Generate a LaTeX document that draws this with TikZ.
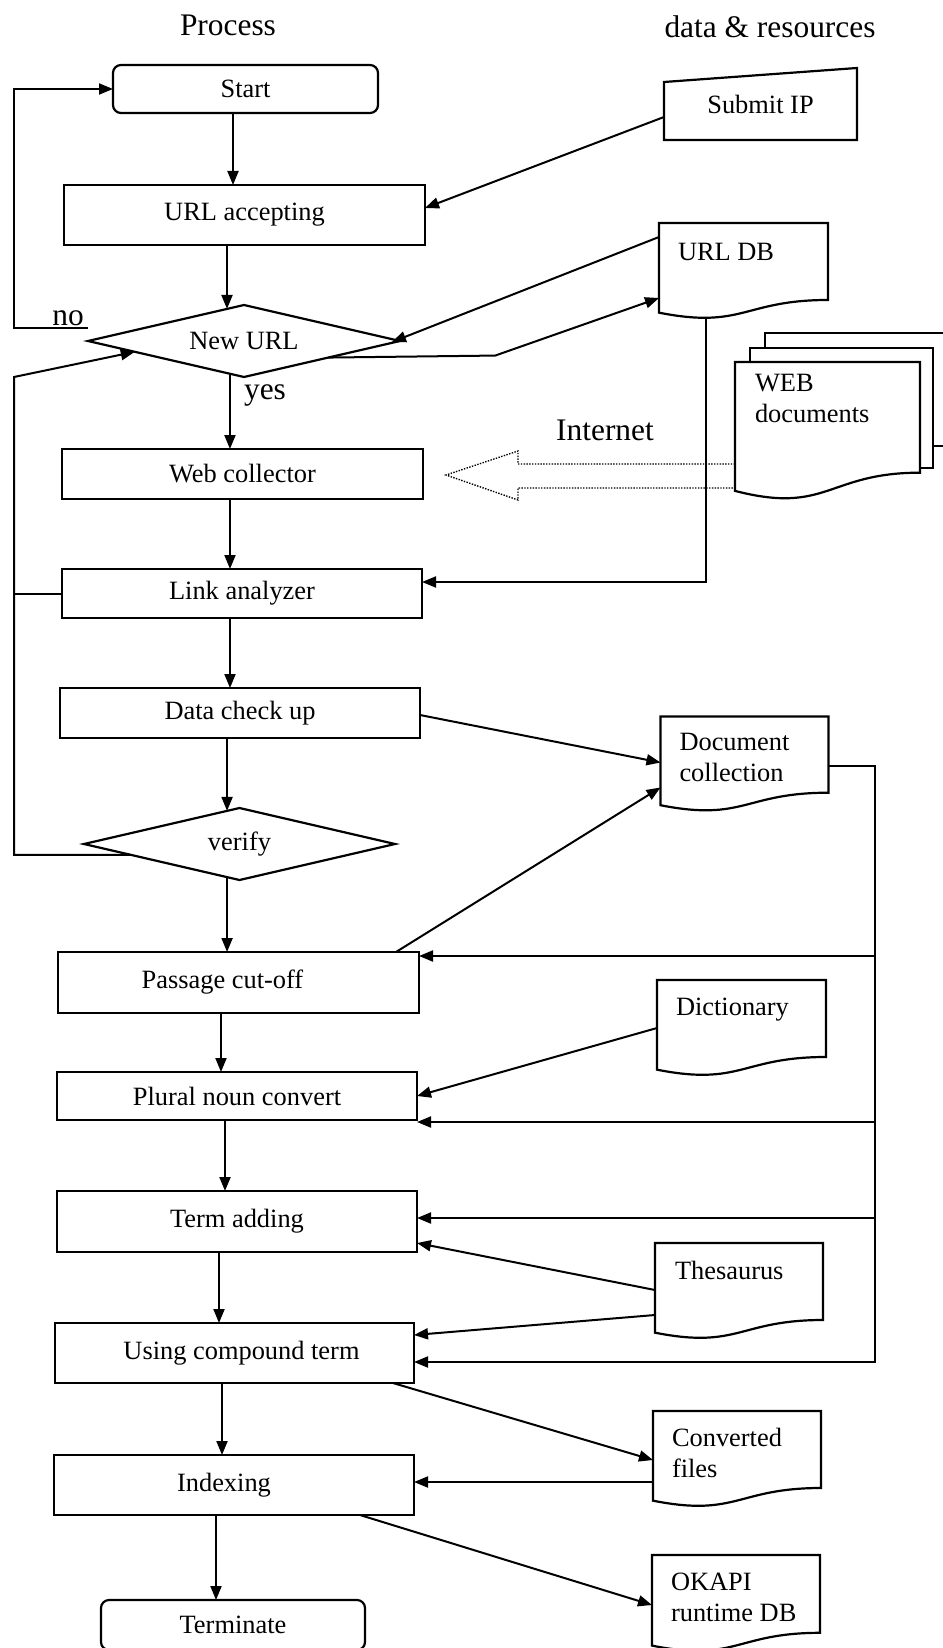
\documentclass[tikz,border=0pt]{standalone}
\usepackage{fontspec}
\setmainfont{Liberation Serif}
\usetikzlibrary{arrows.meta,calc,shapes.geometric}

\newcommand{\boxfont}{\fontsize{13.2}{15.5}\selectfont}
\newcommand{\titlefont}{\fontsize{15.7}{18}\selectfont}
\newcommand{\docshape}[1]{\draw[shapeline] (#1.north west) -- (#1.north east) -- ($(#1.north east)!0.802!(#1.south east)$) .. controls ($(#1.north)!0.802!(#1.south)$) and ($(#1.north)!1.1075!(#1.south)$) .. ($(#1.north west)!0.934!(#1.south west)$) -- cycle;}

\tikzset{
  procbox/.style={draw, line width=1.1pt, inner sep=0pt, outer sep=0pt, font=\boxfont},
  roundbox/.style={procbox, rounded corners=4pt},
  decision/.style={procbox, diamond, aspect=4.3},
  docnode/.style={inner sep=0pt, outer sep=0pt},
  doctext/.style={inner sep=0pt, outer sep=0pt, anchor=north west, align=left, font=\boxfont},
  lbltext/.style={inner sep=0pt, outer sep=0pt, font=\titlefont},
  shapeline/.style={line width=1.1pt, line join=miter},
  arr/.style={line width=1pt, -{Triangle[length=7pt,width=5.5pt]}},
  conn/.style={line width=1pt},
  dottedarrow/.style={line width=0.7pt, dash pattern=on 0.7pt off 0.7pt}
}

\begin{document}
\begin{tikzpicture}[x=0.5pt,y=-0.5pt]
\useasboundingbox (0,0) rectangle (942,1648);

% titles
\node[lbltext] (tproc) at (228,25) {Process};
\node[lbltext] (tdata) at (770,27) {data \& resources};

% process column
\node[roundbox, minimum width=132.5pt, minimum height=24pt] (start) at (245.5,89) {Start};
\node[procbox, minimum width=180.5pt, minimum height=30pt] (urlacc) at (244.5,215) {URL accepting};
\node[decision, minimum width=156pt, minimum height=36pt] (newurl) at (244,341) {New URL};
\node[procbox, minimum width=180.5pt, minimum height=25pt] (webcol) at (242.5,474) {Web collector};
\node[procbox, minimum width=180pt, minimum height=24.5pt] (link) at (242,593.5) {Link analyzer};
\node[procbox, minimum width=180pt, minimum height=25pt] (datachk) at (240,713) {Data check up};
\node[decision, minimum width=155.5pt, minimum height=36pt] (verify) at (239.5,844) {verify};
\node[procbox, minimum width=180.5pt, minimum height=30.5pt] (passage) at (238.5,982.5) {\kern-16pt Passage cut-off};
\node[procbox, minimum width=180pt, minimum height=24pt] (plural) at (237,1096) {Plural noun convert};
\node[procbox, minimum width=180pt, minimum height=30.5pt] (term) at (237,1221.5) {Term adding};
\node[procbox, minimum width=179.5pt, minimum height=30pt] (using) at (234.5,1353) {\kern7pt Using compound term};
\node[procbox, minimum width=180pt, minimum height=30pt] (indexing) at (234,1485) {\kern-10pt Indexing};
\node[roundbox, minimum width=132pt, minimum height=25pt] (terminate) at (233,1625) {Terminate};

% Submit IP (manual input)
\node[docnode, minimum width=96.5pt, minimum height=36pt, font=\boxfont] (submit) at (760.5,104) {Submit IP};
\draw[shapeline] (submit.south west) -- ($(submit.north west)+(0,14)$) -- (submit.north east) -- (submit.south east) -- cycle;

% documents
\node[docnode, minimum width=84.5pt, minimum height=48pt] (urldb) at (743.5,271) {};
\docshape{urldb}
\node[doctext] (urldbt) at ($(urldb.north west)+(19,20)$) {URL DB};

\node[docnode, minimum width=84pt, minimum height=47.5pt] (doccol) at (744.5,764) {};
\docshape{doccol}
\node[doctext] (doccolt) at ($(doccol.north west)+(19,17)$) {Document\\collection};

\node[docnode, minimum width=84.5pt, minimum height=48pt] (dict) at (741.5,1028) {};
\docshape{dict}
\node[doctext] (dictt) at ($(dict.north west)+(19,18)$) {Dictionary};

\node[docnode, minimum width=84pt, minimum height=48pt] (thes) at (739,1291) {};
\docshape{thes}
\node[doctext] (thest) at ($(thes.north west)+(20,18)$) {Thesaurus};

\node[docnode, minimum width=84pt, minimum height=48pt] (conv) at (737,1459) {};
\docshape{conv}
\node[doctext] (convt) at ($(conv.north west)+(19,17)$) {Converted\\files};

\node[docnode, minimum width=84pt, minimum height=48.5pt] (okapi) at (736,1603.5) {};
\docshape{okapi}
\node[doctext] (okapit) at ($(okapi.north west)+(19,18)$) {OKAPI\\runtime DB};

% WEB documents (multi-document)
\node[docnode, minimum width=92.5pt, minimum height=69pt] (webf) at (827.5,431) {};
\draw[shapeline] ($(webf.north west)+(30,-14)$) -- ($(webf.north west)+(30,-29)$) -- ($(webf.north east)+(27,-29)$) -- ($(webf.north east)+(27,84)$) -- ($(webf.north east)+(13,84)$);
\draw[shapeline] ($(webf.north west)+(15,0)$) -- ($(webf.north west)+(15,-14)$) -- ($(webf.north east)+(13,-14)$) -- ($(webf.north east)+(13,106)$) -- ($(webf.north east)+(0,106)$);
\docshape{webf}
\node[doctext] (webft) at ($(webf.north west)+(20,12)$) {WEB\\documents};

% Internet hollow dotted arrow
\coordinate (itip) at ($(webcol.east)+(23,1)$);
\draw[dottedarrow] ($(webf.north west)+(0,102)$) -- ($(itip)+(72,-11)$) -- ($(itip)+(72,-24)$) -- (itip) -- ($(itip)+(72,25)$) -- ($(itip)+(72,13)$) -- ($(webf.north west)+(0,126)$);
\node[lbltext] (inet) at (605,430) {Internet};

% main vertical flow
\draw[arr] ($(start.south)+(-12.5,0)$) -- ($(start.south |- urlacc.north)+(-12.5,0)$);
\coordinate (nuin) at ($(newurl.north)!0.109!(newurl.west)$);
\draw[arr] (nuin |- urlacc.south) -- (nuin);
\coordinate (nuout) at ($(newurl.south)!0.09!(newurl.west)$);
\draw[arr] (nuout) -- (nuout |- webcol.north);
\draw[arr] ($(webcol.south)+(-12.5,0)$) -- ($(webcol.south |- link.north)+(-12.5,0)$);
\draw[arr] ($(link.south)+(-12,0)$) -- ($(link.south |- datachk.north)+(-12,0)$);
\coordinate (vfin) at ($(verify.north)!0.08!(verify.west)$);
\draw[arr] (vfin |- datachk.south) -- (vfin);
\coordinate (vfout) at ($(verify.south)!0.08!(verify.west)$);
\draw[arr] (vfout) -- (vfout |- passage.north);
\draw[arr] ($(passage.south)+(-17.5,0)$) -- ($(passage.south |- plural.north)+(-17.5,0)$);
\draw[arr] ($(plural.south)+(-12,0)$) -- ($(plural.south |- term.north)+(-12,0)$);
\draw[arr] ($(term.south)+(-18,0)$) -- ($(term.south |- using.north)+(-18,0)$);
\draw[arr] ($(using.south)+(-12.5,0)$) -- ($(using.south |- indexing.north)+(-12.5,0)$);
\draw[arr] ($(indexing.south)+(-18,0)$) -- ($(indexing.south |- terminate.north)+(-18,0)$);

% labels yes / no
\node[lbltext, anchor=base] (yeslbl) at (265,399) {yes};
\node[lbltext, anchor=base] (nolbl) at (68,325) {no};

% left loops
\coordinate (railx) at (14,0);
\coordinate (nono) at ($(newurl.west)+(0,-13)$);
\draw[arr] (nono) -- (nono -| railx) |- (start.west);
\coordinate (nuback) at ($(newurl.west)!0.3!(newurl.south)$);
\coordinate (vfback) at ($(verify.west)!0.3!(verify.south)$);
\draw[arr] (vfback) -- (vfback -| railx) -- (railx |- newurl.south) -- (nuback);
\draw[conn] (link.west) -- (link.west -| railx);

% resources to process
\draw[arr] ($(submit.south west)+(0,-23)$) -- ($(urlacc.east)+(0,-7)$);
\draw[arr] ($(urldb.north west)+(0,14)$) -- ($(newurl.east)+(-8,1)$);
\draw[arr] ($(newurl.east)!0.46!(newurl.south)$) -- ++(167,-2) -- ($(urldb.north west)+(0,75)$);
\coordinate (udbbot) at ($(urldb.south west)+(47,-1)$);
\coordinate (lkin) at ($(link.east)+(0,-11.5)$);
\draw[arr] (udbbot) -- (udbbot |- lkin) -- (lkin);
\draw[arr] ($(datachk.east)+(0,2)$) -- ($(doccol.north west)+(0,46)$);
\draw[arr] ($(passage.north east)+(-23,0)$) -- ($(doccol.north west)+(0,71)$);

% document collection bus
\coordinate (busx) at (875,0);
\coordinate (dcout) at ($(doccol.north east)+(0,49)$);
\coordinate (usin) at ($(using.east)+(0,9)$);
\draw[arr] (dcout) -- (dcout -| busx) -- (busx |- usin) -- (usin);
\coordinate (pcin) at ($(passage.east)+(0,-26.5)$);
\draw[arr] (busx |- pcin) -- (pcin);
\coordinate (plin) at ($(plural.south east)+(0,2)$);
\draw[arr] (busx |- plin) -- (plin);
\coordinate (tmin) at ($(term.east)+(0,-3.5)$);
\draw[arr] (busx |- tmin) -- (tmin);

\draw[arr] ($(dict.north west)+(0,48)$) -- (plural.east);
\draw[arr] ($(thes.north west)+(0,47)$) -- ($(term.east)+(0,21.5)$);
\draw[arr] ($(thes.north west)+(0,72)$) -- ($(using.east)+(0,-18)$);
\draw[arr] ($(using.south east)+(-21,0)$) -- ($(conv.north west)+(0,49)$);
\coordinate (cvout) at ($(conv.north west)+(0,71)$);
\draw[arr] (cvout) -- (cvout -| indexing.east);
\draw[arr] ($(indexing.south east)+(-54,0)$) -- ($(okapi.north west)+(0,50)$);
\end{tikzpicture}
\end{document}
